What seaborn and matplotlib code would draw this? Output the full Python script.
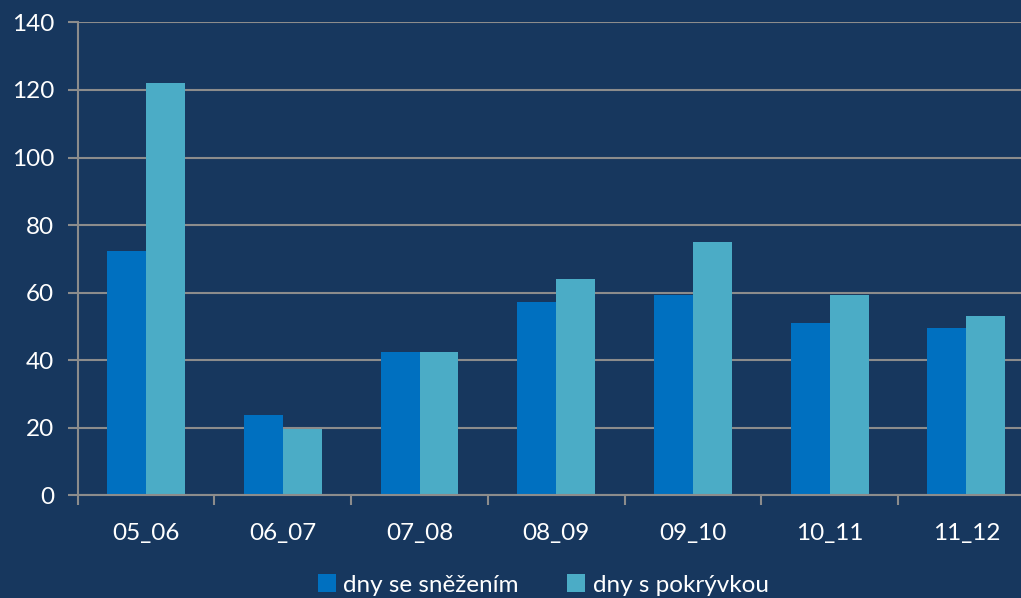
import numpy as np
import pandas as pd
import matplotlib
matplotlib.use("Agg")
import matplotlib.pyplot as plt
import seaborn as sns

# Winter seasons and day counts
seasons = ["05_06", "06_07", "07_08", "08_09", "09_10", "10_11", "11_12"]
snowfall_days = [72.3, 23.7, 42.5, 57.3, 59.4, 51.0, 49.6]
cover_days = [122.2, 19.5, 42.3, 64.1, 75.1, 59.2, 53.1]
series_names = ["dny se sněžením", "dny s pokrývkou"]
y_ticks = [0, 20, 40, 60, 80, 100, 120, 140]

BG = "#17375E"
GRID = "#8C8C8C"
COLORS = ["#0070C0", "#4BACC6"]
FS = 17.5

df = pd.DataFrame({
    "season": seasons * 2,
    "days": snowfall_days + cover_days,
    "series": [series_names[0]] * len(seasons) + [series_names[1]] * len(seasons),
})

sns.set_theme(style="white")
plt.rcParams["font.family"] = ["Lato", "DejaVu Sans"]

fig = plt.figure(figsize=(10.21, 5.98), dpi=100, facecolor=BG)
ax = fig.add_axes([0.0761, 0.1717, 1.0135 - 0.0761, 0.9625 - 0.1717])
ax.set_facecolor(BG)

sns.barplot(data=df, x="season", y="days", hue="series", order=seasons,
            hue_order=series_names, palette=COLORS, width=0.57, gap=0,
            saturation=1, linewidth=0, ax=ax, zorder=3)

ax.set_xlim(-0.5, len(seasons) - 0.5)
ax.set_ylim(0, 140)
ax.set_yticks(y_ticks)
ax.set_yticklabels([str(t) for t in y_ticks])
ax.set_xlabel("")
ax.set_ylabel("")

# horizontal gridlines
for t in y_ticks:
    ax.axhline(t, color=GRID, lw=1.5, zorder=1)

for side in ["top", "right"]:
    ax.spines[side].set_visible(False)
for side in ["left", "bottom"]:
    ax.spines[side].set_color(GRID)
    ax.spines[side].set_linewidth(1.5)
    ax.spines[side].set_zorder(4)

# tick marks at category boundaries, labels at centres
ax.set_xticks(np.arange(len(seasons)))
ax.set_xticklabels(seasons)
ax.set_xticks(np.arange(-0.5, len(seasons), 1.0), minor=True)
ax.tick_params(axis="x", which="major", length=0, pad=20, labelsize=FS,
               labelcolor="white")
ax.tick_params(axis="x", which="minor", length=7, width=1.5, color=GRID,
               direction="out", bottom=True)
ax.tick_params(axis="y", which="major", length=7, width=1.5, color=GRID,
               direction="out", left=True, pad=10, labelsize=FS,
               labelcolor="white")

leg = ax.legend(loc="center", ncol=2, frameon=False,
                fontsize=FS, handlelength=0.75, handleheight=0.75,
                handletextpad=0.3, columnspacing=2.0, labelcolor="white")
leg.set_bbox_to_anchor((0.532, 0.022), transform=fig.transFigure)

fig.savefig("out.png", dpi=100, facecolor=BG)
